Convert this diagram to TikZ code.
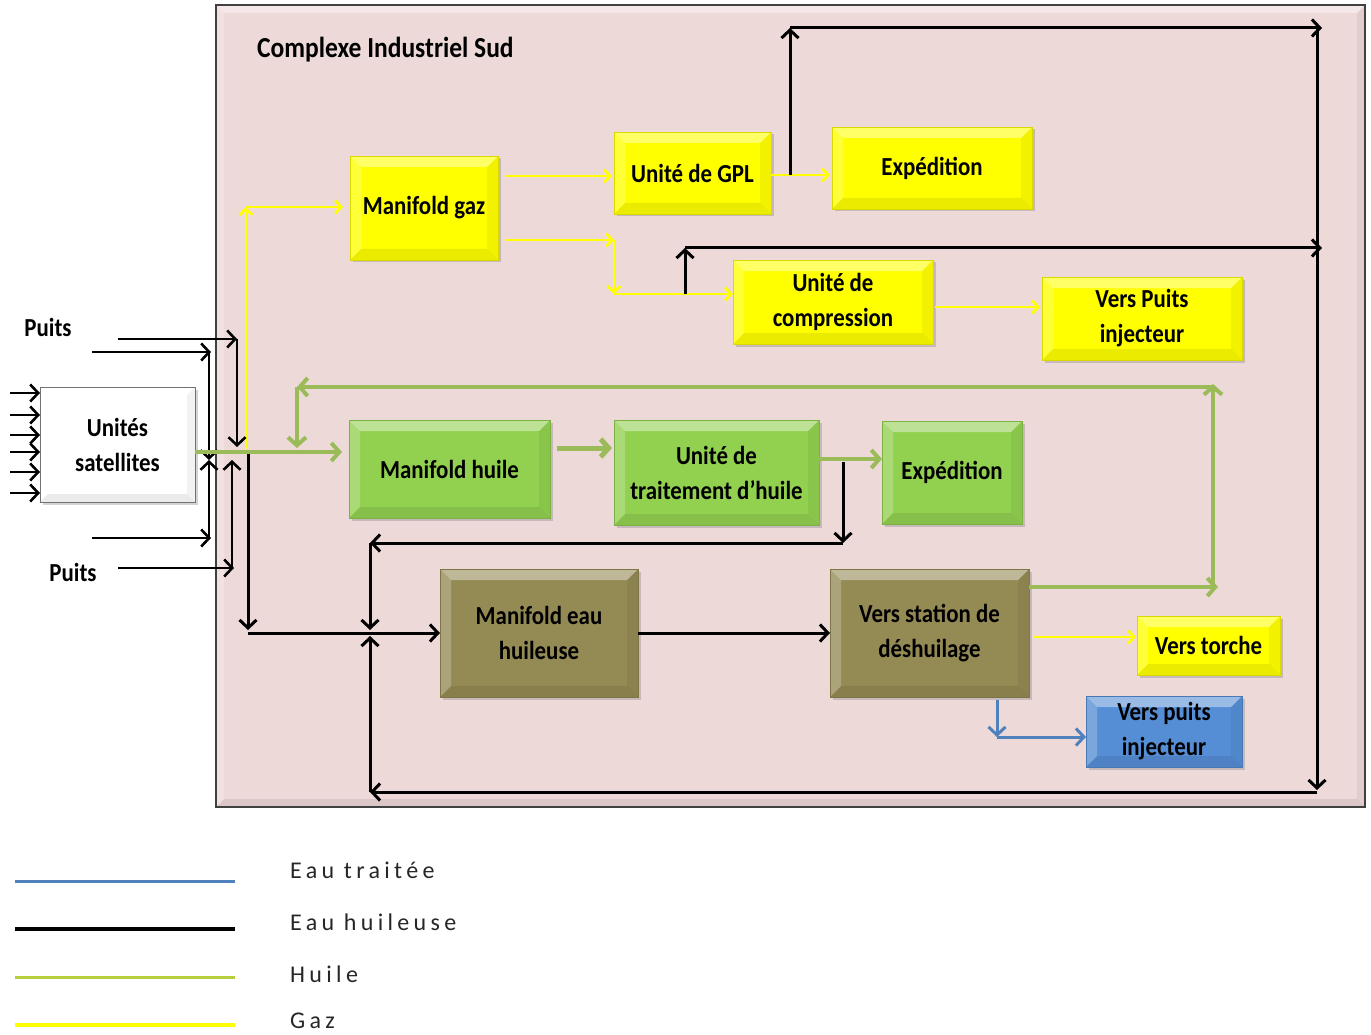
\documentclass[tikz,border=0pt]{standalone}
\usepackage{fontspec}
\setmainfont{Carlito}
\newfontfamily\boxfont[FakeStretch=0.88]{Carlito}
\newfontfamily\legfont[LetterSpace=18]{Carlito}
\usetikzlibrary{arrows.meta,shadows}
\definecolor{bgpink}{HTML}{EED9D9}
\definecolor{ygas}{HTML}{FFFF00}
\definecolor{gbox}{HTML}{92D050}
\definecolor{gline}{HTML}{9BBB59}
\definecolor{obox}{HTML}{948A54}
\definecolor{bbox}{HTML}{558ED5}
\definecolor{bline}{HTML}{4F81BD}
\tikzset{
  tipK/.tip={Straight Barb[length=8pt,width=17pt]},
  tipY/.tip={Straight Barb[length=6pt,width=13pt]},
  tipG/.tip={Straight Barb[length=8pt,width=18pt]},
  tipB/.tip={Straight Barb[length=8pt,width=17pt]},
  bevbox/.style={path picture={
    \path (path picture bounding box.north west) coordinate (pnw)
          (path picture bounding box.north east) coordinate (pne)
          (path picture bounding box.south west) coordinate (psw)
          (path picture bounding box.south east) coordinate (pse);
    \fill[white,opacity=0.40] (pnw) -- (pne) -- ([xshift=-#1,yshift=-#1]pne) -- ([xshift=#1,yshift=-#1]pnw) -- cycle;
    \fill[white,opacity=0.22] (pnw) -- ([xshift=#1,yshift=-#1]pnw) -- ([xshift=#1,yshift=#1]psw) -- (psw) -- cycle;
    \fill[black,opacity=0.08] (psw) -- (pse) -- ([xshift=-#1,yshift=#1]pse) -- ([xshift=#1,yshift=#1]psw) -- cycle;
    \fill[black,opacity=0.05] (pne) -- (pse) -- ([xshift=-#1,yshift=#1]pse) -- ([xshift=-#1,yshift=-#1]pne) -- cycle;
  }},
  bevbox/.default=11pt,
  unit/.style={draw=#1!85!black, line width=0.8pt, fill=#1, bevbox,
    inner sep=0pt, outer sep=0pt, align=center,
    font=\boxfont\bfseries\fontsize{26}{35}\selectfont,
    drop shadow={shadow xshift=2.5pt,shadow yshift=-2.5pt,opacity=0.35}},
  lblk/.style={black,line width=3pt},
  lpuits/.style={black,line width=2.6pt},
  lgas/.style={ygas,line width=2.8pt},
  loil/.style={gline,line width=4pt},
  lwat/.style={bline,line width=3pt},
  lbl/.style={font=\boxfont\bfseries\fontsize{26}{35}\selectfont, inner sep=0pt},
  leg/.style={font=\legfont\fontsize{24}{26}\selectfont, anchor=west, inner sep=0pt, text=black!85},
}
\begin{document}
\begin{tikzpicture}[x=1pt,y=-1pt]
\useasboundingbox (0,0) rectangle (1371,1035);

% frame
\node[draw=black!75, line width=2pt, fill=bgpink, bevbox=8pt, minimum width=1149pt, minimum height=802pt, inner sep=0pt] (cplx) at (790.5,406) {};
\node[lbl, font=\boxfont\bfseries\fontsize{29}{32}\selectfont, anchor=west] (title) at (257,50) {Complexe Industriel Sud};

% boxes
\node[unit=ygas, minimum width=148pt, minimum height=104pt] (mgaz) at (424,208) {Manifold gaz};
\node[unit=ygas, minimum width=157pt, minimum height=82pt] (gpl) at (692.5,173) {Unité de GPL};
\node[unit=ygas, minimum width=200pt, minimum height=82pt] (exp1) at (932,168) {Expédition};
\node[unit=ygas, minimum width=200pt, minimum height=84pt] (comp) at (833,302) {Unité de\\compression};
\node[unit=ygas, minimum width=200pt, minimum height=83pt] (vpi) at (1142,318.5) {Vers Puits\\injecteur};
\node[unit=white, draw=black!55, minimum width=155pt, minimum height=115pt, bevbox=8pt] (sat) at (117.5,444.5) {Unités\\satellites};
\node[unit=gbox, minimum width=201pt, minimum height=98pt] (mhuile) at (449.5,469) {Manifold huile};
\node[unit=gbox, minimum width=205pt, minimum height=105pt] (trait) at (716.5,472.5) {Unité de\\traitement d’huile};
\node[unit=gbox, minimum width=140pt, minimum height=103pt] (exp2) at (952,472.5) {Expédition};
\node[unit=obox, minimum width=198pt, minimum height=128pt] (meau) at (539,633) {Manifold eau\\huileuse};
\node[unit=obox, minimum width=199pt, minimum height=128pt] (desh) at (929.5,633) {Vers station de\\déshuilage};
\node[unit=ygas, minimum width=143pt, minimum height=59pt] (torche) at (1208.5,645.5) {Vers torche};
\node[unit=bbox, minimum width=156pt, minimum height=71pt] (vpib) at (1164,731.5) {Vers puits\\injecteur};

\node[lbl] (puits1) at (48,327) {Puits};
\node[lbl] (puits2) at (73,572) {Puits};

% ---- coordinates
\coordinate (gA) at (246,449);
\coordinate (gB) at (246,207);
\coordinate (g2) at (505,176);
\coordinate (g3) at (505,240);
\coordinate (g4) at (614,240);
\coordinate (g5) at (614,294);
\coordinate (g6) at (771,175);
\coordinate (g7) at (935,307);
\coordinate (g8) at (1034,637);

\coordinate (k1) at (790,175);
\coordinate (k2) at (790,28);
\coordinate (kR) at (1317,28);
\coordinate (kRb) at (1317,792);
\coordinate (kL) at (370,792);
\coordinate (kJ) at (370,633);
\coordinate (k4) at (685,294);
\coordinate (k5) at (685,248);
\coordinate (kR2) at (1317,248);
\coordinate (k6) at (843,462);
\coordinate (k7) at (843,543);
\coordinate (k8) at (370,543);
\coordinate (k9) at (248,452);
\coordinate (k10) at (248,633);

\coordinate (p1) at (118,339);  \coordinate (p1c) at (237,339);  \coordinate (p1e) at (237,447);
\coordinate (p2) at (92,352);   \coordinate (p2c) at (209,352);  \coordinate (pX) at (209,460);
\coordinate (p3) at (92,538);   \coordinate (p3c) at (209,538);
\coordinate (p4) at (118,568);  \coordinate (p4c) at (232,568);  \coordinate (p4e) at (232,460);

\coordinate (o1) at (557,448);
\coordinate (o2) at (819,459);
\coordinate (o3) at (1029,587);
\coordinate (o4) at (1213,587);
\coordinate (o5) at (1213,387);
\coordinate (o6) at (297,387);
\coordinate (o7) at (297,448);

\coordinate (w1) at (997,700);
\coordinate (w2) at (997,737);

% ---- gas (yellow)
\draw[lgas,-{tipY}] (gA) -- (gB);
\draw[lgas,-{tipY}] (gB) -- ([xshift=-7pt]mgaz.west |- gB);
\draw[lgas,-{tipY}] (g2) -- ([xshift=-2pt]gpl.west |- g2);
\draw[lgas,-{tipY}] (g3) -- (g4);
\draw[lgas,-{tipY}] (g4) -- (g5);
\draw[lgas,-{tipY}] (g5) -- (comp.west |- g5);
\draw[lgas,-{tipY}] (g6) -- ([xshift=-2pt]exp1.west |- g6);
\draw[lgas,-{tipY}] (g7) -- ([xshift=-2pt]vpi.west |- g7);
\draw[lgas,-{tipY}] (g8) -- ([xshift=-1pt]torche.west |- g8);

% ---- oily water (black)
\draw[lblk,-{tipK}] (k1) -- (k2);
\draw[lblk,-{tipK}] (k2) -- ([xshift=5pt]kR);
\draw[lblk,-{tipK}] (kR) -- ([yshift=2pt]kRb);
\draw[lblk,-{tipK}] (kRb) -- (kL);
\draw[lblk,-{tipK}] (kL) -- ([yshift=-3pt]kJ);
\draw[lblk,-{tipK}] (k4) -- (k5);
\draw[lblk,-{tipK}] (k5) -- ([xshift=5pt]kR2);
\draw[lblk,-{tipK}] (k6) -- (k7);
\draw[lblk,-{tipK}] (k7) -- (k8);
\draw[lblk,-{tipK}] (k8) -- ([yshift=3pt]kJ);
\draw[lblk,-{tipK}] (k9) -- ([yshift=3pt]k10);
\draw[lblk,-{tipK}] (k10) -- (meau.west |- k10);
\draw[lblk,-{tipK}] (meau.east) -- (desh.west);

% ---- wells
\draw[lpuits,-{tipK}] (p1) -- (p1c);
\draw[lpuits,-{tipK}] (p1c) -- (p1e);
\draw[lpuits,-{tipK}] (p2) -- ([xshift=2pt]p2c);
\draw[lpuits,-{tipK}] (p2c) -- (pX);
\draw[lpuits,-{tipK}] (p3) -- ([xshift=2pt]p3c);
\draw[lpuits,-{tipK}] (p3c) -- (pX);
\draw[lpuits,-{tipK}] (p4) -- ([xshift=2pt]p4c);
\draw[lpuits,-{tipK}] (p4c) -- (p4e);
\foreach \yy/\nm in {393/i1,415/i2,435/i3,452/i4,472/i5,493/i6}{
  \coordinate (\nm) at (10,\yy);
  \draw[lpuits,-{tipK}] (\nm) -- (sat.west |- \nm);
}

% ---- oil (green)
\draw[loil,-{tipG}] (sat.east |- k9) -- ([xshift=-7pt]mhuile.west |- k9);
\draw[loil,line width=5pt,-{tipG}] (o1) -- ([xshift=-2pt]trait.west |- o1);
\draw[loil,-{tipG}] (o2) -- (exp2.west |- o2);
\draw[loil,-{tipG}] (o3) -- ([xshift=5pt]o4);
\draw[loil,-{tipG}] (o4) -- ([yshift=3pt]o5);
\draw[loil,-{tipG}] (o5) -- (o6);
\draw[loil,-{tipG}] (o6) -- (o7);

% ---- treated water (blue)
\draw[lwat,-{tipB}] (w1) -- (w2);
\draw[lwat,-{tipB}] (w2) -- (vpib.west |- w2);

% ---- legend
\coordinate (la1) at (15,881);  \coordinate (la2) at (235,881);
\coordinate (lb1) at (15,929);  \coordinate (lb2) at (235,929);
\coordinate (lc1) at (15,977);  \coordinate (lc2) at (235,977);
\coordinate (ld1) at (15,1025); \coordinate (ld2) at (235,1025);
\draw[bline,line width=3pt] (la1) -- (la2);
\draw[black,line width=3.5pt] (lb1) -- (lb2);
\draw[gline!70!ygas,line width=3pt] (lc1) -- (lc2);
\draw[ygas,line width=4pt] (ld1) -- (ld2);
\node[leg] (leg1) at (290,870) {Eau traitée};
\node[leg] (leg2) at (290,922) {Eau huileuse};
\node[leg] (leg3) at (290,974) {Huile};
\node[leg] (leg4) at (290,1021) {Gaz};
\end{tikzpicture}
\end{document}
